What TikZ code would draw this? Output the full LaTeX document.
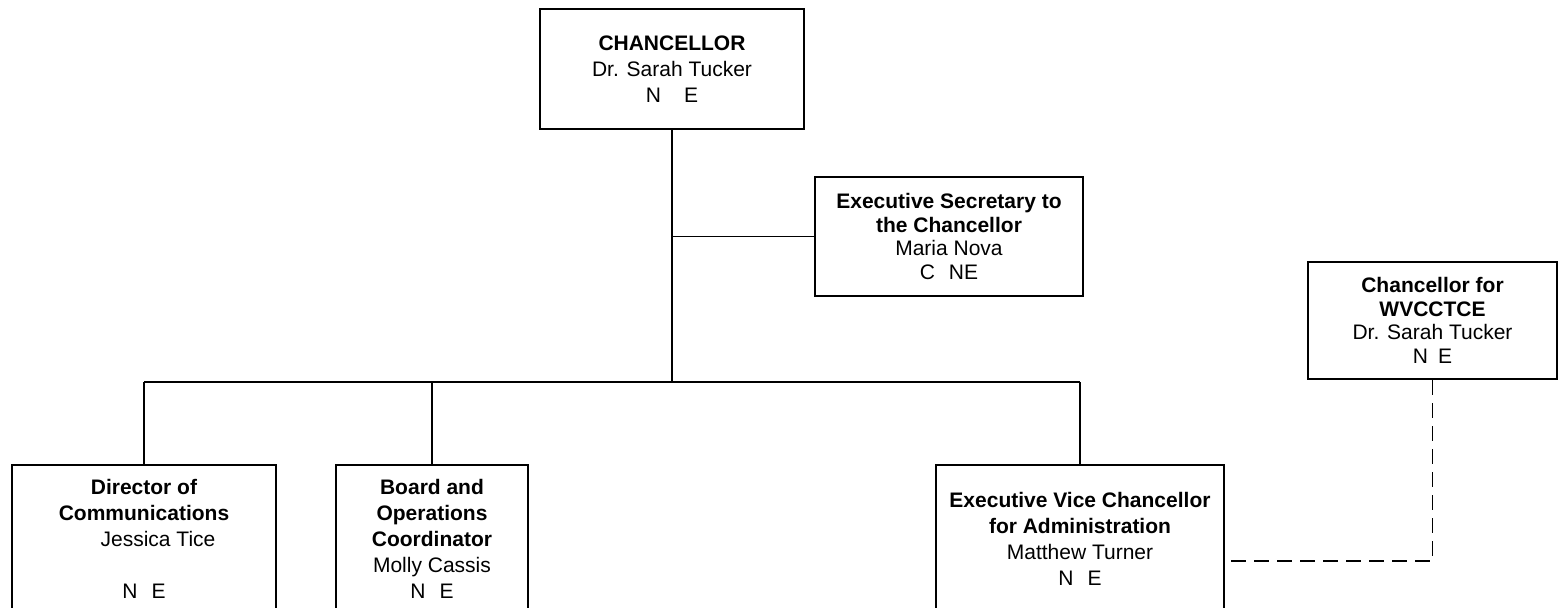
\documentclass[tikz,border=0pt]{standalone}
\usepackage{fontspec}
\setmainfont{Liberation Sans}
\usetikzlibrary{
  calc,
  positioning,
}
\tikzstyle{post} = [
  draw,
  rectangle,
  line width=1pt,
  inner sep=0pt,
  align=center,
  font=\fontsize{10.5}{13}\selectfont,
]
\tikzstyle{tight} = [
  font=\fontsize{10.5}{11.75}\selectfont,
]
\tikzstyle{link} = [
  line width=0.9pt,
]
\tikzstyle{liaison} = [
  line width=0.9pt,
  dash pattern=on 7.5pt off 4pt,
]

\begin{document}
\begin{tikzpicture}[x=0.5pt, y=-0.5pt]

        \useasboundingbox (0,0) rectangle (1560,607);
        \clip (0,0) rectangle (1560,607);

        \node [post, minimum width=132pt, minimum height=60pt] (chancellor) at (672,69)
              {\textbf{CHANCELLOR}\\Dr. Sarah Tucker\\N\hspace{11.5pt}E};

        \node [post, tight, minimum width=134pt, minimum height=59.5pt] (execsec) at (949,236.5)
              {\textbf{Executive Secretary to}\\\textbf{the Chancellor}\\Maria Nova\\C\hspace{7pt}NE};

        \node [post, tight, minimum width=124.5pt, minimum height=58.5pt] (wvcctce) at (1432.5,320.5)
              {\textbf{Chancellor for}\\\textbf{WVCCTCE}\\Dr. Sarah Tucker\\N\hspace{5pt}E};

        \node [post, minimum width=132pt, minimum height=73.5pt] (director) at (144,538.5)
              {\textbf{Director of}\\\textbf{Communications}\\\hspace*{14pt}Jessica Tice\\[13pt]N\hspace{7pt}E};

        \node [post, minimum width=96pt, minimum height=73.5pt] (board) at (432,538.5)
              {\textbf{Board and}\\\textbf{Operations}\\\textbf{Coordinator}\\Molly Cassis\\N\hspace{7pt}E};

        \node [post, minimum width=144pt, minimum height=73.5pt] (evc) at (1080,538.5)
              {\textbf{Executive Vice Chancellor}\\\textbf{for Administration}\\Matthew Turner\\N\hspace{7pt}E};

        \coordinate (split) at (672,382);
        \coordinate (handoff) at (1230,561);

        \draw [link] (chancellor.south) -- (split);
        \draw [link] (execsec.west) -- (execsec.west -| chancellor.south);
        \draw [link] (director.north |- split) -- (evc.north |- split);

        \foreach \unit in {director, board, evc} {
          \draw [link] (\unit.north |- split) -- (\unit.north);
        }

        \draw [liaison] (wvcctce.south) |- (handoff);
      \end{tikzpicture}
\end{document}
